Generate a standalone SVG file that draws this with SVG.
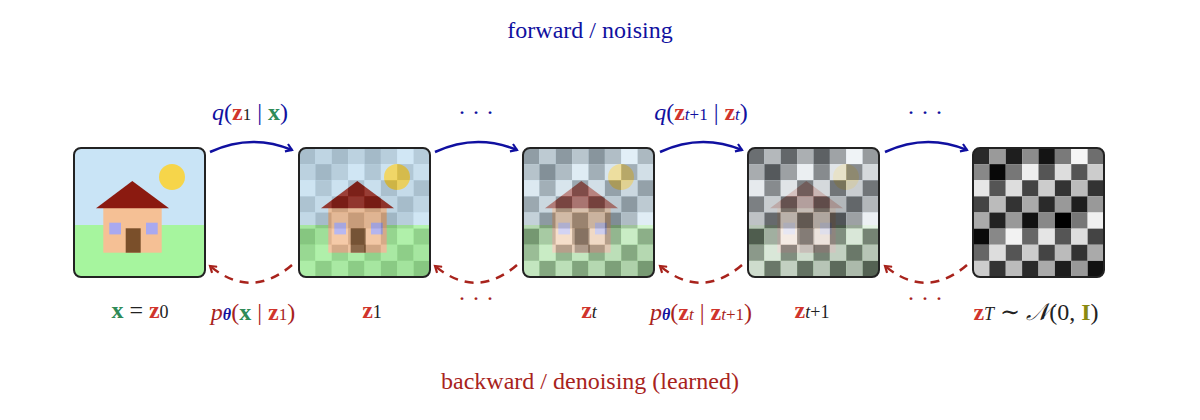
<svg xmlns="http://www.w3.org/2000/svg" width="1200" height="420" viewBox="0 0 1200 420">
<style>
.t{font-family:"Liberation Serif","DejaVu Serif",serif;font-size:24px}
.b{font-weight:bold}
.r{fill:#d0342c}.g{fill:#2e8b57}.bl{fill:#1010a0}.dr{fill:#a8231c}.k{fill:#222}.o{fill:#8a8a10}
.fw{fill:none;stroke:#1010a0;stroke-width:2.5}
.bw{fill:none;stroke:#a8231c;stroke-width:2.5;stroke-dasharray:9 7}
.frame{fill:none;stroke:#222;stroke-width:2}
</style>
<defs>
<clipPath id="cp"><rect x="0" y="0" width="131" height="129" rx="7"/></clipPath>
<marker id="ma" markerWidth="10" markerHeight="10" refX="7" refY="5" orient="auto" markerUnits="userSpaceOnUse"><path d="M1,1 L7,5 L1,9" fill="none" stroke="#1010a0" stroke-width="2.2"/></marker>
<marker id="mb" markerWidth="10" markerHeight="10" refX="7" refY="5" orient="auto" markerUnits="userSpaceOnUse"><path d="M1,1 L7,5 L1,9" fill="none" stroke="#a8231c" stroke-width="2.2"/></marker>
<g id="scene">
<rect x="0" y="0" width="131" height="129" fill="#c9e4f6"/>
<rect x="0" y="77" width="131" height="52" fill="#a6f59e"/>
<circle cx="98" cy="29" r="13" fill="#f6d54a"/>
<rect x="29.3" y="60" width="58.4" height="44.7" fill="#f5c095"/>
<polygon points="58.3,33 22,60.3 95,60.3" fill="#8b1a10"/>
<rect x="35.3" y="74.7" width="11.7" height="11.7" fill="#a9a9f0"/>
<rect x="72" y="74.7" width="11.7" height="11.7" fill="#a9a9f0"/>
<rect x="51.7" y="80.3" width="15" height="24.4" fill="#7a4f2a"/>
</g>
<g id="noise">
<g transform="scale(16.375 16.125)">
<rect x="0" y="0" width="1" height="1" fill="#2a2a2a"/><rect x="1" y="0" width="1" height="1" fill="#9a9a9a"/><rect x="2" y="0" width="1" height="1" fill="#1e1e1e"/><rect x="3" y="0" width="1" height="1" fill="#8c8c8c"/><rect x="4" y="0" width="1" height="1" fill="#141414"/><rect x="5" y="0" width="1" height="1" fill="#7a7a7a"/><rect x="6" y="0" width="1" height="1" fill="#f5f5f5"/><rect x="7" y="0" width="1" height="1" fill="#6e6e6e"/>
<rect x="0" y="1" width="1" height="1" fill="#888"/><rect x="1" y="1" width="1" height="1" fill="#080808"/><rect x="2" y="1" width="1" height="1" fill="#777"/><rect x="3" y="1" width="1" height="1" fill="#eee"/><rect x="4" y="1" width="1" height="1" fill="#555"/><rect x="5" y="1" width="1" height="1" fill="#ddd"/><rect x="6" y="1" width="1" height="1" fill="#555"/><rect x="7" y="1" width="1" height="1" fill="#ccc"/>
<rect x="0" y="2" width="1" height="1" fill="#e6e6e6"/><rect x="1" y="2" width="1" height="1" fill="#555"/><rect x="2" y="2" width="1" height="1" fill="#ddd"/><rect x="3" y="2" width="1" height="1" fill="#444"/><rect x="4" y="2" width="1" height="1" fill="#ccc"/><rect x="5" y="2" width="1" height="1" fill="#333"/><rect x="6" y="2" width="1" height="1" fill="#bbb"/><rect x="7" y="2" width="1" height="1" fill="#333"/>
<rect x="0" y="3" width="1" height="1" fill="#444"/><rect x="1" y="3" width="1" height="1" fill="#bbb"/><rect x="2" y="3" width="1" height="1" fill="#333"/><rect x="3" y="3" width="1" height="1" fill="#aaa"/><rect x="4" y="3" width="1" height="1" fill="#2a2a2a"/><rect x="5" y="3" width="1" height="1" fill="#999"/><rect x="6" y="3" width="1" height="1" fill="#1e1e1e"/><rect x="7" y="3" width="1" height="1" fill="#999"/>
<rect x="0" y="4" width="1" height="1" fill="#aaa"/><rect x="1" y="4" width="1" height="1" fill="#222"/><rect x="2" y="4" width="1" height="1" fill="#999"/><rect x="3" y="4" width="1" height="1" fill="#111"/><rect x="4" y="4" width="1" height="1" fill="#888"/><rect x="5" y="4" width="1" height="1" fill="#000"/><rect x="6" y="4" width="1" height="1" fill="#777"/><rect x="7" y="4" width="1" height="1" fill="#f0f0f0"/>
<rect x="0" y="5" width="1" height="1" fill="#0a0a0a"/><rect x="1" y="5" width="1" height="1" fill="#888"/><rect x="2" y="5" width="1" height="1" fill="#f2f2f2"/><rect x="3" y="5" width="1" height="1" fill="#666"/><rect x="4" y="5" width="1" height="1" fill="#e5e5e5"/><rect x="5" y="5" width="1" height="1" fill="#555"/><rect x="6" y="5" width="1" height="1" fill="#ddd"/><rect x="7" y="5" width="1" height="1" fill="#444"/>
<rect x="0" y="6" width="1" height="1" fill="#666"/><rect x="1" y="6" width="1" height="1" fill="#ddd"/><rect x="2" y="6" width="1" height="1" fill="#555"/><rect x="3" y="6" width="1" height="1" fill="#ccc"/><rect x="4" y="6" width="1" height="1" fill="#444"/><rect x="5" y="6" width="1" height="1" fill="#bbb"/><rect x="6" y="6" width="1" height="1" fill="#333"/><rect x="7" y="6" width="1" height="1" fill="#aaa"/>
<rect x="0" y="7" width="1" height="1" fill="#ccc"/><rect x="1" y="7" width="1" height="1" fill="#333"/><rect x="2" y="7" width="1" height="1" fill="#bbb"/><rect x="3" y="7" width="1" height="1" fill="#2a2a2a"/><rect x="4" y="7" width="1" height="1" fill="#aaa"/><rect x="5" y="7" width="1" height="1" fill="#1e1e1e"/><rect x="6" y="7" width="1" height="1" fill="#999"/><rect x="7" y="7" width="1" height="1" fill="#111"/>
</g>
</g>
</defs>

<g id="n0" transform="translate(74,148)"><g clip-path="url(#cp)"><use href="#scene"/></g><rect class="frame" width="131" height="129" rx="7"/></g>
<g id="n1" transform="translate(299,148)"><g clip-path="url(#cp)"><use href="#scene"/><use href="#noise" opacity="0.2"/></g><rect class="frame" width="131" height="129" rx="7"/></g>
<g id="n2" transform="translate(523,148)"><g clip-path="url(#cp)"><use href="#scene" opacity="0.75"/><use href="#noise" opacity="0.4"/></g><rect class="frame" width="131" height="129" rx="7"/></g>
<g id="n3" transform="translate(748,148)"><g clip-path="url(#cp)"><rect width="131" height="129" fill="#fff"/><use href="#scene" opacity="0.5"/><use href="#noise" opacity="0.65"/></g><rect class="frame" width="131" height="129" rx="7"/></g>
<g id="n4" transform="translate(973,148)"><g clip-path="url(#cp)"><use href="#noise"/></g><rect class="frame" width="131" height="129" rx="7"/></g>

<g id="connectors">
<path class="fw" d="M210,152 Q251,133 292,150" marker-end="url(#ma)"/>
<path class="fw" d="M435,152 Q476,133 517,150" marker-end="url(#ma)"/>
<path class="fw" d="M660,152 Q701,133 742,150" marker-end="url(#ma)"/>
<path class="fw" d="M885,152 Q926,133 967,150" marker-end="url(#ma)"/>
<path class="bw" d="M292,265 Q251,300 210,266" marker-end="url(#mb)"/>
<path class="bw" d="M517,265 Q476,300 435,266" marker-end="url(#mb)"/>
<path class="bw" d="M742,265 Q701,300 660,266" marker-end="url(#mb)"/>
<path class="bw" d="M967,265 Q926,300 885,266" marker-end="url(#mb)"/>
</g>

<text class="t bl" x="590" y="38" text-anchor="middle">forward / noising</text>
<text class="t dr" x="590" y="389" text-anchor="middle">backward / denoising (learned)</text>

<text class="t bl" x="250" y="120" text-anchor="middle"><tspan font-style="italic">q</tspan>(<tspan class="r b">z</tspan><tspan class="k" font-size="17">1</tspan> | <tspan class="g b">x</tspan>)</text>
<text class="t bl" x="476" y="120" text-anchor="middle">· · ·</text>
<text class="t bl" x="701" y="120" text-anchor="middle"><tspan font-style="italic">q</tspan>(<tspan class="r b">z</tspan><tspan font-size="17" font-style="italic">t</tspan><tspan font-size="17">+1</tspan> | <tspan class="r b">z</tspan><tspan font-size="17" font-style="italic">t</tspan>)</text>
<text class="t bl" x="925" y="120" text-anchor="middle">· · ·</text>

<text class="t k" x="140" y="318" text-anchor="middle"><tspan class="g b">x</tspan> = <tspan class="r b">z</tspan><tspan font-size="18">0</tspan></text>
<text class="t dr" x="253" y="320" text-anchor="middle"><tspan font-style="italic">p</tspan><tspan class="bl b" font-style="italic" font-size="16">θ</tspan>(<tspan class="g b">x</tspan> | <tspan class="r b">z</tspan><tspan font-size="17">1</tspan>)</text>
<text class="t k" x="372" y="318" text-anchor="middle"><tspan class="r b">z</tspan><tspan font-size="18">1</tspan></text>
<text class="t dr" x="476" y="306" text-anchor="middle">· · ·</text>
<text class="t k" x="589" y="318" text-anchor="middle"><tspan class="r b">z</tspan><tspan font-size="18" font-style="italic">t</tspan></text>
<text class="t dr" x="701" y="320" text-anchor="middle"><tspan font-style="italic">p</tspan><tspan class="bl b" font-style="italic" font-size="16">θ</tspan>(<tspan class="r b">z</tspan><tspan font-size="17" font-style="italic">t</tspan> | <tspan class="r b">z</tspan><tspan font-size="17" font-style="italic">t</tspan><tspan font-size="17">+1</tspan>)</text>
<text class="t k" x="812" y="318" text-anchor="middle"><tspan class="r b">z</tspan><tspan font-size="18" font-style="italic">t</tspan><tspan font-size="18">+1</tspan></text>
<text class="t dr" x="925" y="306" text-anchor="middle">· · ·</text>
<text class="t k" x="1036" y="320" text-anchor="middle"><tspan class="r b">z</tspan><tspan font-size="18" font-style="italic">T</tspan> ∼ <tspan font-family="DejaVu Serif" font-style="italic">𝒩</tspan>(0, <tspan class="o b">I</tspan>)</text>
</svg>
